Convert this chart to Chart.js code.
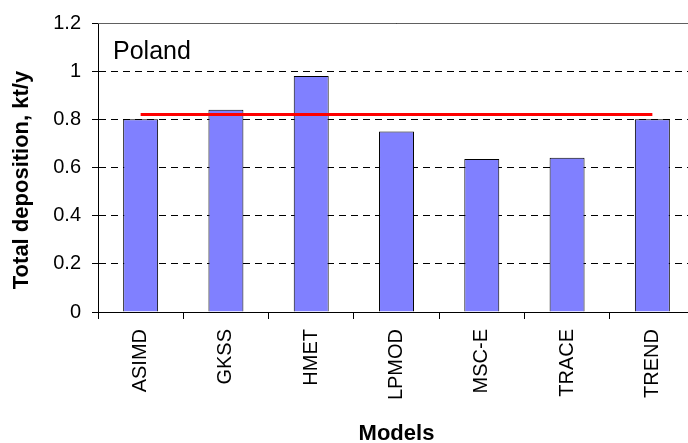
<!DOCTYPE html>
<html>
<head>
<meta charset="utf-8">
<script src="https://cdn.jsdelivr.net/npm/chart.js@4"></script>
<style>
  html, body { margin: 0; padding: 0; background: #fff; overflow: hidden; }
  #wrap { position: relative; width: 700px; height: 443px; }
</style>
</head>
<body>
<div id="wrap"><canvas id="depChart"></canvas></div>
<script>
  // model runs and their deposition over Poland
  var models = ['ASIMD', 'GKSS', 'HMET', 'LPMOD', 'MSC-E', 'TRACE', 'TREND'];
  var deposition = [0.80, 0.84, 0.98, 0.75, 0.635, 0.64, 0.80];
  var reference = [0.82, 0.82, 0.82, 0.82, 0.82, 0.82, 0.82];
  var yTicks = [0, 0.2, 0.4, 0.6, 0.8, 1, 1.2];

  var fontFamily = "'Liberation Sans', Arial, sans-serif";
  Chart.defaults.font.family = fontFamily;
  Chart.defaults.color = '#000';

  // region name, y axis title and the solid top frame
  var plotExtras = {
    id: 'plotExtras',
    afterDraw: function (chart) {
      var c = chart.ctx, a = chart.chartArea;
      c.save();
      c.strokeStyle = '#606060';
      c.lineWidth = 1;
      c.beginPath();
      c.moveTo(a.left, a.top + 0.5);
      c.lineTo(a.right, a.top + 0.5);
      c.stroke();
      c.fillStyle = '#000';
      c.font = '25px ' + fontFamily;
      c.textBaseline = 'alphabetic';
      c.fillText('Poland', a.left + 15, a.top + 36);

      c.translate(22, 180);
      c.rotate(-Math.PI / 2);
      c.font = 'bold 22px ' + fontFamily;
      c.textAlign = 'center';
      c.textBaseline = 'middle';
      c.fillText('Total deposition, kt/y', 0, 0);
      c.restore();
    }
  };

  var ctx = document.getElementById('depChart').getContext('2d');
  var depChart = new Chart(ctx, {
    data: {
      labels: models,
      datasets: [{
        type: 'line',
        label: 'Observed',
        data: reference,
        borderColor: '#ff0000',
        borderWidth: 3,
        pointRadius: 0,
        fill: false,
        order: 0
      }, {
        type: 'bar',
        label: 'Total deposition',
        data: deposition,
        backgroundColor: '#8080ff',
        borderColor: '#000',
        borderWidth: 1,
        barPercentage: 0.41,
        categoryPercentage: 1,
        order: 1
      }]
    },
    plugins: [plotExtras],
    options: {
      responsive: true,
      maintainAspectRatio: false,
      animation: false,
      layout: { padding: { top: 23, right: 5, left: 0, bottom: 0 } },
      plugins: {
        legend: { display: false },
        tooltip: { enabled: false }
      },
      scales: {
        x: {
          grid: { drawOnChartArea: false, offset: true, tickLength: 7, color: '#000' },
          border: { color: '#000' },
          ticks: { minRotation: 90, maxRotation: 90, padding: 10, font: { size: 20 } },
          title: { display: true, text: 'Models', font: { size: 22, weight: 'bold' }, padding: { top: 0, bottom: -4 } },
          afterFit: function (scale) { scale.height = 131; }
        },
        y: {
          min: 0,
          max: 1.2,
          afterBuildTicks: function (scale) {
            scale.ticks = yTicks.map(function (v) { return { value: v }; });
          },
          grid: { color: '#000', tickLength: 6 },
          border: {
            color: '#000',
            dash: function (c) { return (c.tick && (c.tick.value === 0 || c.tick.value === 1.2)) ? [] : [7, 5]; }
          },
          ticks: {
            padding: 11,
            font: { size: 20 },
            callback: function (v) { return String(v); }
          },
          afterFit: function (scale) { scale.width = 98; }
        }
      }
    }
  });
</script>
</body>
</html>
